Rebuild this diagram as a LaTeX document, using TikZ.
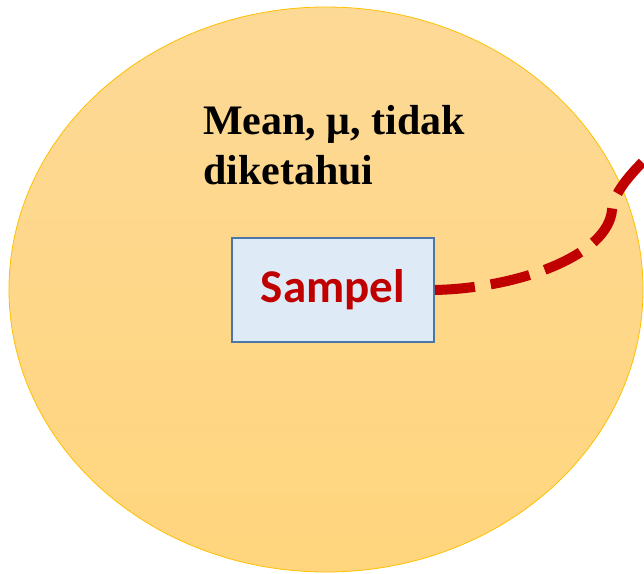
\documentclass[tikz,border=0pt]{standalone}
\usepackage{fontspec}
\setmainfont{Liberation Serif}
\newfontfamily\carlito{Carlito}
\definecolor{popfill}{RGB}{253,217,150}
\definecolor{popfilllow}{RGB}{255,213,125}
\definecolor{popedge}{RGB}{255,192,0}
\definecolor{boxfill}{RGB}{222,234,246}
\definecolor{boxedge}{RGB}{74,118,168}
\definecolor{darkred}{RGB}{192,0,0}
\tikzset{
  population/.style={top color=popfill, bottom color=popfilllow, draw=popedge, line width=0.8pt},
  samplebox/.style={draw=boxedge, fill=boxfill, line width=2pt, inner sep=0pt,
    minimum width=202pt, minimum height=104pt, font=\carlito\bfseries\fontsize{47}{56}\selectfont, text=darkred},
  caption/.style={font=\bfseries\fontsize{42}{50}\selectfont, align=left, inner sep=0pt},
  link/.style={draw=darkred, line width=10pt, dash pattern=on 40pt off 16pt}
}
\begin{document}
\begin{tikzpicture}[x=1pt,y=1pt]
  \useasboundingbox (0,0) rectangle (644,573);
  \clip (0,0) rectangle (644,573);
  % population ellipse
  \path[population] (326,283.5) ellipse [x radius=317, y radius=282.5];
  % label about the unknown mean (base anchor sits on the last line)
  \node[caption, anchor=base west] (mean) at (203,388) {Mean, μ, tidak\\diketahui};
  % sample box
  \node[samplebox] (sample) at (333,283) {Sampel};
  % dashed link leaving the population
  \coordinate (exit) at (652,420);
  \draw[link] (sample.east) .. controls (520,285) and (608,318) .. (612,363)
    .. controls (613,375) and (622,392) .. (exit);
\end{tikzpicture}
\end{document}
